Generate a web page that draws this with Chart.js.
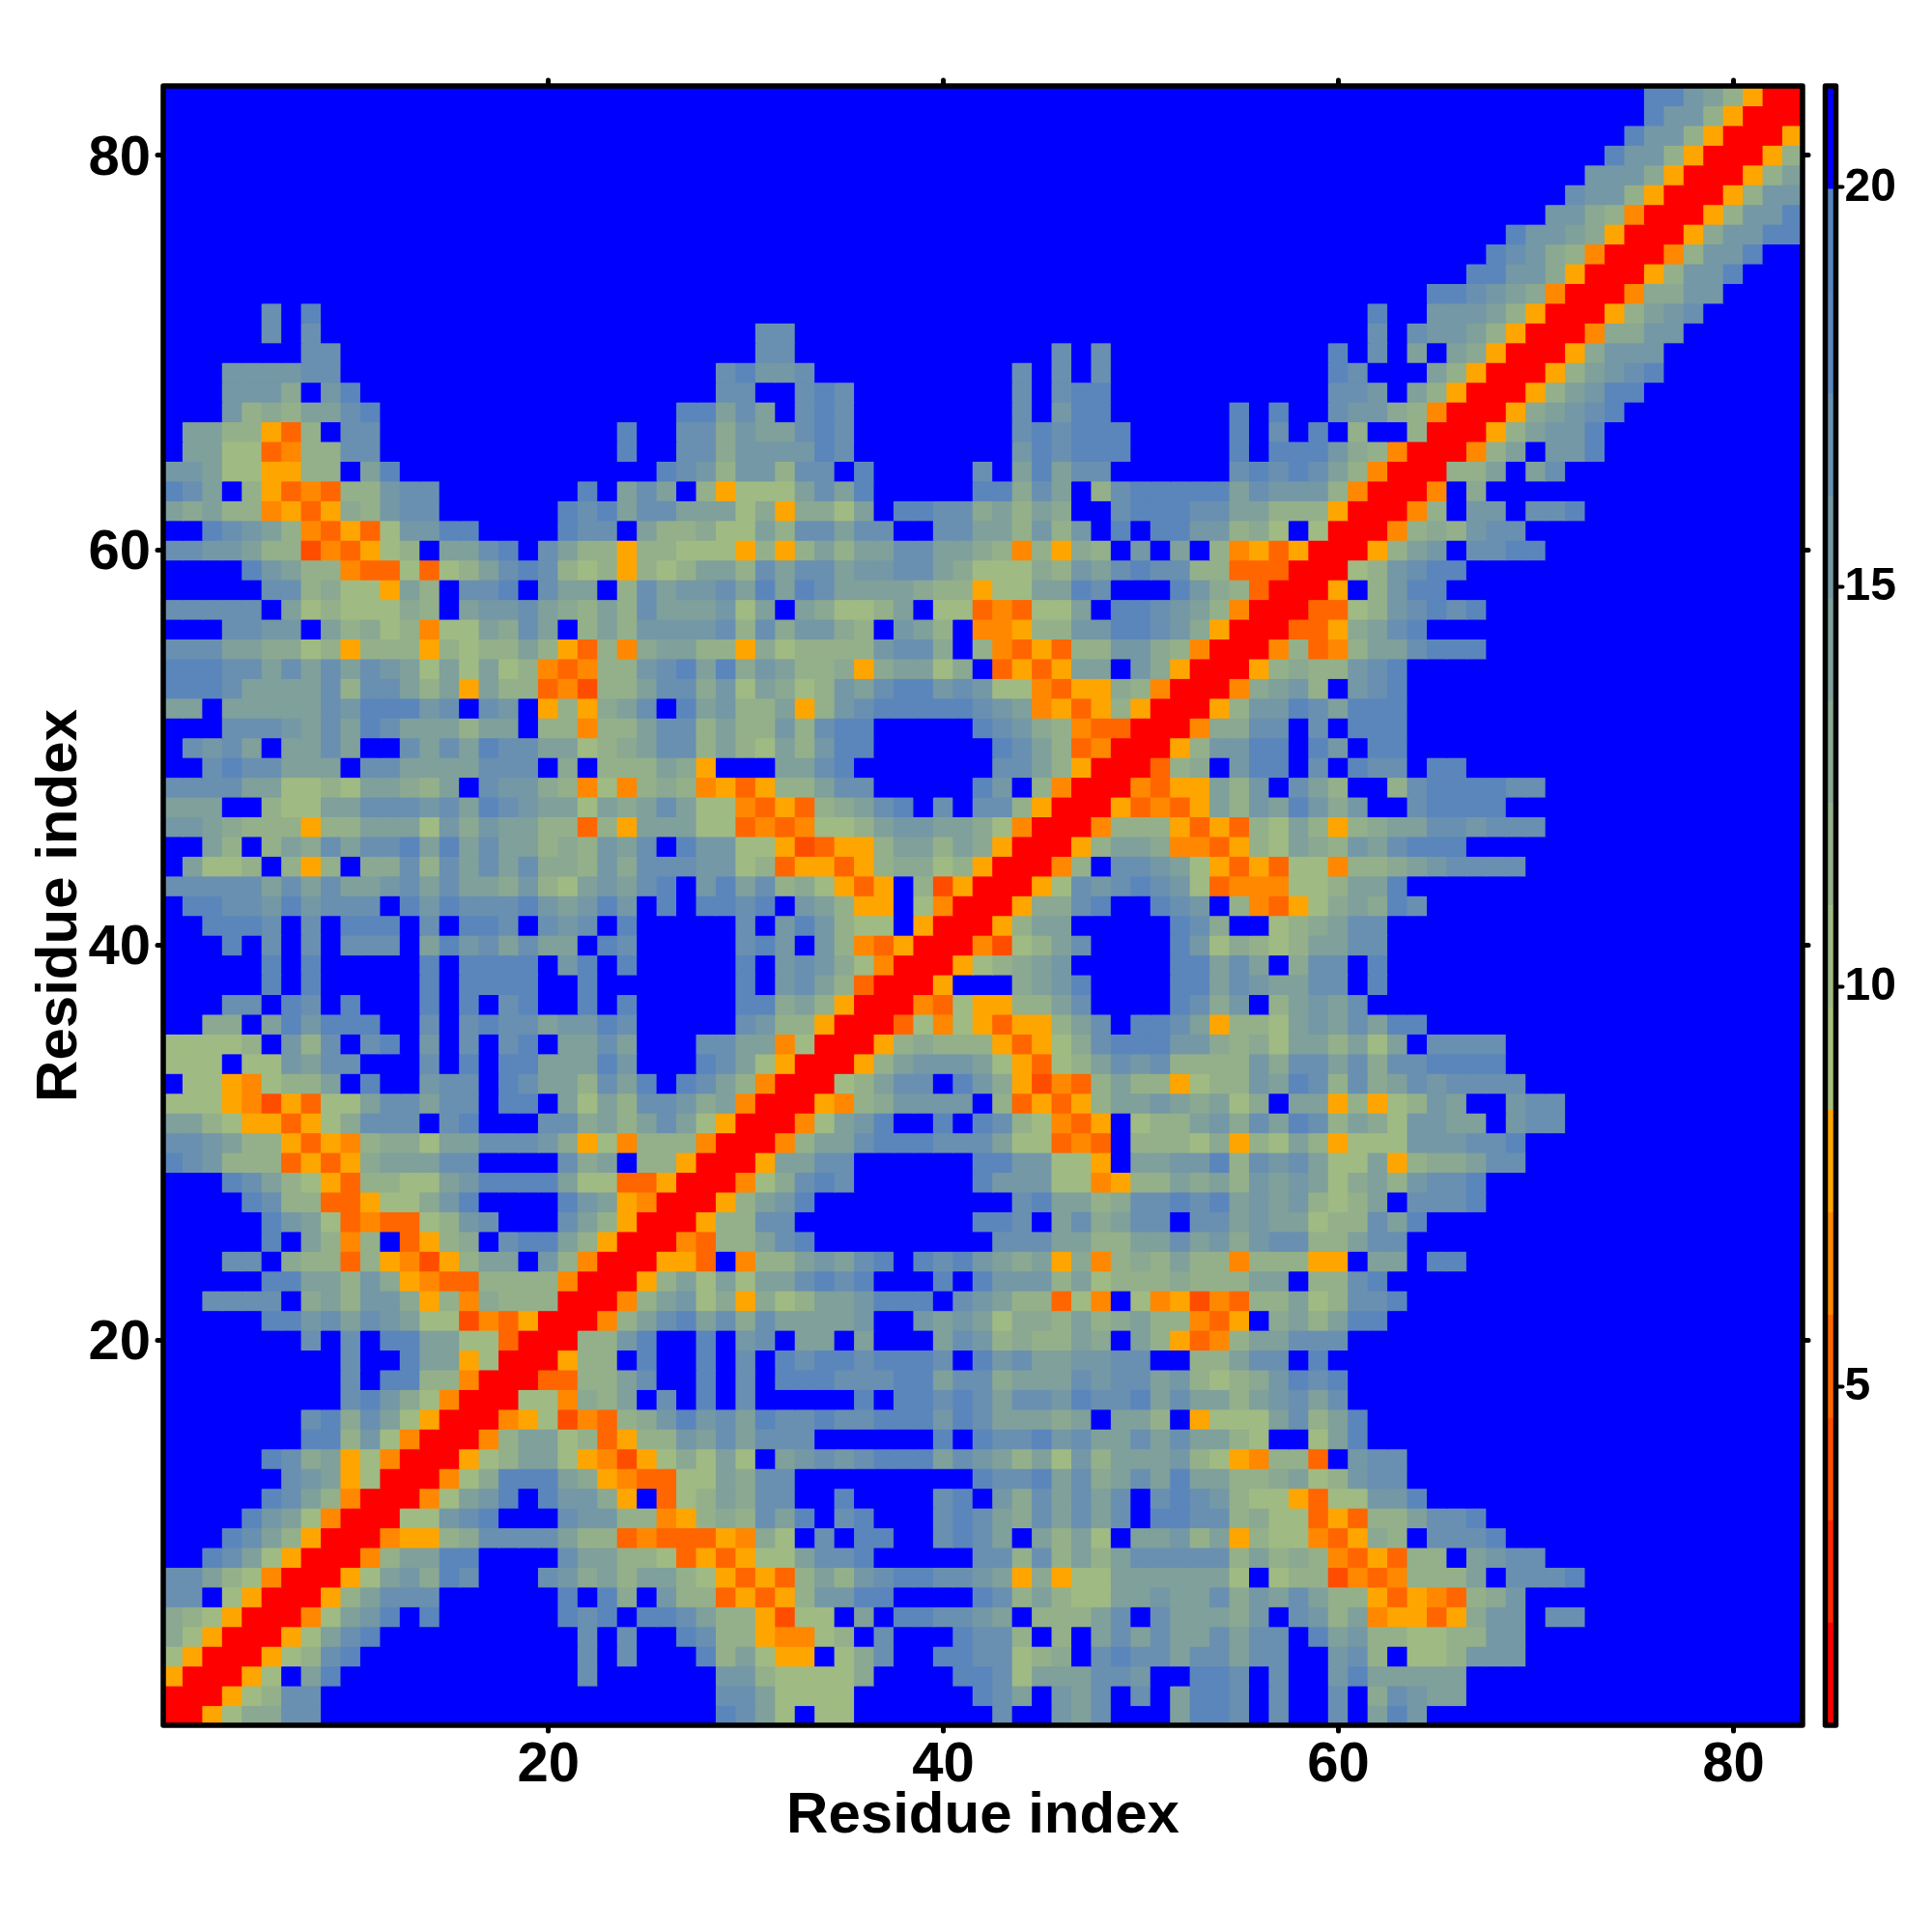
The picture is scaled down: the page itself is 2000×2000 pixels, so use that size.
<!DOCTYPE html>
<html>
<head>
<meta charset="utf-8">
<title>Residue distance map</title>
<script src="https://cdn.jsdelivr.net/npm/chart.js@4/dist/chart.umd.min.js"></script>
<style>
    html, body { margin: 0; background: #fff; }
    canvas { position: absolute; top: 0; }
    #map { left: 0; }
    #bar { left: 1870px; }
</style>
</head>
<body>
<canvas id="map" width="2000" height="2000"></canvas>
<canvas id="bar" width="130" height="2000"></canvas>
<script>
// one hex digit per cell = colour band, row 1 first, columns 1..row.
// the map is symmetric so only this half is written down
const distanceRows = [
    '0', '00', '500', '7500', '97500', '987500', 'ccf7500', 'cca87400', 'ffdca7500', 'fffdca8500',
    'ffffdba7400', 'fffffdca8400', 'ffffffcba5700', 'fffffdc9a57400', 'fffffffdd8b7400',
    'fffffffcd9ca7500', 'fffffffffcdb97400', 'fffffffffcfdd88400', 'fffffffffcffdaa5700',
    'fffffffcfcfddaa77300', 'fffffddbcacba77243500', 'ffccccf9a8bb9584988800',
    'fffffddaa8b954338888400', 'fffccf9883854258aafb8400', 'fffffdfa848f3589fcdda8500',
    'fffffdba7343378bcfffca8500', 'ffffdc88335779bdffffdba5400', 'fffdca87538877abdddda7733500',
    'dcb88835359aaaccffffc9af88500',
    'ccba885354 8997aacccb 9574888400',
    'aa87553579 cccfcdfffc c9a8aca750 0',
    '7775425377 accaccfddf a7a8ccb9a4 00',
    'f7754788af dffbccfdca a8cadfdca8 400',
    '777f77bacc fffcfdfdda aadbfffdca 7500',
    '77778fb8cf cdfbfcfcdf aacafffcca a4700',
    'ff99fadbdd dffcfcdcca bbdcfffffc b88500',
    'fffccfdcfd fffdfdfcdf fdfdfffffd d9a8500',
    'fffffdfdff fffdfddddf fdfffffffd fbca8300',
    'fffffdfdff fffdfddddf bdfdfffffd fbcb97400',
    'fffdfcfcfc ccfadbcaca afdcfffffc dbfb843500',
    'ffdddcfcfd ddfcfddcfc bcfdfffffc fbdb877f50 0',
    'fddccbdbcc cfdbdcccdb abdbfdfddc dfba855f74 00',
    'cccccacaca abcacaa9b8 7abacdfbda c897535f82 500',
    'fa778f858f 99c8cacac9 98b9cccbb7 8355358997 8500',
    'ffa8f8a9ca ccdadacaa8 98bacfdbb7 7523558aa8 a9500',
    'bba9888588 aaa7b9baa8 8385aaa773 434778abba a97400',
    'aaaff877aa cccbcadcba a7a9aca774 35389acdfc fcc8500',
    'ccccaa7787 aa98afcbb9 8474898453 588accffff fdbf8400',
    'ffcdccaaaf ccaaaacccf 9f888a95ff faacdfffff ffcca8500',
    'fcbcafaaca ffcacadcca a789acc8a8 7a8bddffff ffdca83400',
    'fffcccbaca dcaaa8aaf8 8488acc8a8 8b8cddffff fdcb984330 0',
    'aafaaaaacb dddbcfcbf5 859acfdab8 8a58bcdddd dcba453585 00',
    'dddcaaaac8 cca8a5a883 4288acc9b7 a978bacddb cb77435598 400',
    'dddccacaca cba7a7a784 3488bcdad9 ba88959aa7 9f3535aafb 9500',
    'cccaa99785 88858788a8 53849aa885 978888bcc9 f8435388bb 98400',
    'fffccbbfa8 978477a9ca f8a8bbbbc8 c9bb98fba8 f44588bbdd cb9500',
    'cccccfa787 7798fabbca 98a8caaab7 afa9778af7 734377afdd cba8400',
    'fffffcc897 75a8fccdfc aaf8cabbca dadcaaaa98 8577aadcff fdb98300',
    'ffffdba884 337378acdc 8785878aa8 caccabbcca 977798bacd cc8833300',
    'ccbba88243 578faacdfc a885887775 858a8aacca a9848598fb faf8453500',
    'ffdcba8435 37bbddffff dccfa88977 a8ccaccffc caa8b8bfdf ddbb897f70 0',
    'a9a8845359 8bccffffff dcdaccaaa7 95997afddc c9a8a9ffcd ddccaa8885 00',
    'dcaf853438 8bccffffff fdfacaf857 77acadffff fdd9caf8cd ddddacbbb8 400',
    'bba775588f adffffffff fffffdcb8b b8ccfdffff fcfadaccff ffffcdcdca 8400',
    'faa773488c cfffffffff fffdffcc9b bbbdcfffff fffbdcdddf ffffdfdddb 98400',
    'faa88538fc cfffffffff fffdffcc9b aacdcfffff fffcdcdddf ffffdfcfdf 8ff800',
    'fffb898aac dfffffffff ffffffddac afcdcfffff fffcfbddff ffffdfdffc bb98400',
    'fffbbb9fbd ffffffffff ffffffffcc ffcdcfffff fffcfcddff fffffffffc cbfa8500',
    'fffbbbbccf ffffffffff ffffffffcd bbcfffffff fffcfcfcff fffffffffd cfffa8500',
    'fffffffccf ffffffffff ffffffffff ccffffffff fffffcfcff fffffffffd fcfafa9500',
    'fffffcfcff ffffffffff ffffffffff ccffffffff ffffffffff ffffffffff fcfcbba850 0',
    'fffffcfdff ffffffffff ffffffffff ffffffffff ffffffffff ffffffffff fdffbbba85 00',
    'ffffffffff ffffffffff ffffffffff ffffffffff ffffffffff ffffffffff ffffddcba9 400',
    'ffffffffff ffffffffff ffffffffff ffffffffff ffffffffff ffffffffff ffffffddbb 9500',
    'ffffffffff ffffffffff ffffffffff ffffffffff ffffffffff ffffffffff fffffffdcb 98400',
    'ffffffffff ffffffffff ffffffffff ffffffffff ffffffffff ffffffffff ffffffffdb ba9500',
    'ffffffffff ffffffffff ffffffffff ffffffffff ffffffffff ffffffffff ffffffffff bb98400',
    'ffffffffff ffffffffff ffffffffff ffffffffff ffffffffff ffffffffff ffffffffff fcbb8500',
    'ffffffffff ffffffffff ffffffffff ffffffffff ffffffffff ffffffffff ffffffffff ffbbb9500',
    'ffffffffff ffffffffff ffffffffff ffffffffff ffffffffff ffffffffff ffffffffff fffdbb8500',
    'ffffffffff ffffffffff ffffffffff ffffffffff ffffffffff ffffffffff ffffffffff ffffdbb850 0',
    'ffffffffff ffffffffff ffffffffff ffffffffff ffffffffff ffffffffff ffffffffff fffffdbb85 00',
    'ffffffffff ffffffffff ffffffffff ffffffffff ffffffffff ffffffffff ffffffffff fffffddba8 500'
];
const bandEdges = [0.76, 2.04, 3.32, 4.6, 5.89, 7.17, 8.45, 9.73, 11.01, 12.29, 13.57, 14.85, 16.13, 17.41, 18.69, 19.97, 21.26];
const bandColors = ['#ff0000', '#ff2a00', '#ff4d00', '#ff6600', '#ff8800', '#ffa500', '#a6bf7f', '#a0ba83',
    '#94b08a', '#8aa892', '#7fa09b', '#7498a5', '#6990b0', '#5b86bc', '#5783c0', '#0000ff'];
const mapTicks = [20, 40, 60, 80];
const barTicks = [5, 10, 15, 20];

const FONT = 'Liberation Sans, Arial, sans-serif';
// a bit over one cell (20.45px) so no seams show between neighbours
const CELL_SIDE = 21.5;

// the frame goes on last, round caps make the ticks look like the original
const framePlugin = {
    id: 'frame',
    beforeDraw(chart) { chart.ctx.lineCap = 'round'; },
    afterDatasetsDraw(chart) {
        const { ctx, chartArea: a } = chart;
        ctx.save();
        ctx.lineCap = 'butt';
        ctx.lineJoin = 'round';
        ctx.strokeStyle = '#000';
        ctx.lineWidth = 5.5;
        ctx.strokeRect(a.left, a.top, a.right - a.left, a.bottom - a.top);
        ctx.restore();
    }
};

function fixedAxis(size, prop, extra) {
    return Object.assign({
        type: 'linear',
        min: 0.5,
        max: 83.5,
        afterFit(scale) { scale[prop] = size; },
        afterBuildTicks(scale) { scale.ticks = mapTicks.map(value => ({ value })); },
        grid: { drawOnChartArea: false, tickLength: 6, tickWidth: 5, tickColor: '#000' },
        border: { display: false }
    }, extra);
}

function axisLabels(padding, labelOffset) {
    return { color: '#000', padding, labelOffset, autoSkip: false, maxRotation: 0, font: { family: FONT, size: 58, weight: 'bold' } };
}

function axisTitle(padding) {
    return { display: true, text: 'Residue index', color: '#000', padding, font: { family: FONT, size: 60, weight: 'bold' } };
}

function createMap() {
    const cells = [];
    distanceRows.forEach((row, r) => {
        const digits = row.replace(/ /g, '');
        if (digits.length !== r + 1) throw new Error('row ' + (r + 1) + ' has ' + digits.length + ' cells');
        [...digits].forEach((d, c) => {
            const band = parseInt(d, 16);
            const value = (bandEdges[band] + bandEdges[band + 1]) / 2;
            cells.push({ x: c + 1, y: r + 1, v: value, band });
            if (c !== r) cells.push({ x: r + 1, y: c + 1, v: value, band });
        });
    });
    // keep the overlap the same everywhere
    cells.sort((a, b) => a.y - b.y || a.x - b.x);

    return new Chart(document.getElementById('map'), {
        type: 'scatter',
        data: {
            datasets: [{
                data: cells,
                pointStyle: 'rect',
                pointRadius: CELL_SIDE / Math.SQRT2,
                pointBorderWidth: 0,
                pointBackgroundColor: cells.map(c => bandColors[c.band])
            }]
        },
        options: {
            responsive: false,
            animation: false,
            events: [],
            plugins: { legend: { display: false }, tooltip: { enabled: false } },
            scales: {
                x: fixedAxis(214, 'height', { position: 'bottom', ticks: axisLabels(1, 0), title: axisTitle({ top: 0, bottom: 84 }) }),
                y: fixedAxis(169, 'width', { position: 'left', ticks: axisLabels(7, 4), title: axisTitle({ top: 26, bottom: 0 }) }),
                x2: fixedAxis(89, 'height', { axis: 'x', position: 'top', ticks: { display: false } }),
                y2: fixedAxis(134, 'width', { axis: 'y', position: 'right', ticks: { display: false } })
            }
        },
        plugins: [framePlugin]
    });
}

function createColorBar() {
    return new Chart(document.getElementById('bar'), {
        type: 'bar',
        data: {
            labels: [''],
            datasets: bandColors.map((color, i) => ({
                data: [[bandEdges[i], bandEdges[i + 1]]],
                backgroundColor: color,
                grouped: false,
                barPercentage: 1,
                categoryPercentage: 1
            }))
        },
        options: {
            responsive: false,
            animation: false,
            events: [],
            layout: { padding: { left: 19.5, top: 89, bottom: 214 } },
            plugins: { legend: { display: false }, tooltip: { enabled: false } },
            scales: {
                x: { display: false },
                y: {
                    position: 'right',
                    min: bandEdges[0],
                    max: bandEdges[bandEdges.length - 1],
                    afterFit(scale) { scale.width = 99.5; },
                    afterBuildTicks(scale) { scale.ticks = barTicks.map(value => ({ value })); },
                    grid: { drawOnChartArea: false, tickLength: 7, tickWidth: 4, tickColor: '#000' },
                    border: { display: false },
                    ticks: { color: '#000', padding: 2, labelOffset: 1, font: { family: FONT, size: 48, weight: 'bold' } }
                }
            }
        },
        plugins: [framePlugin]
    });
}

createMap();
createColorBar();
</script>
</body>
</html>
